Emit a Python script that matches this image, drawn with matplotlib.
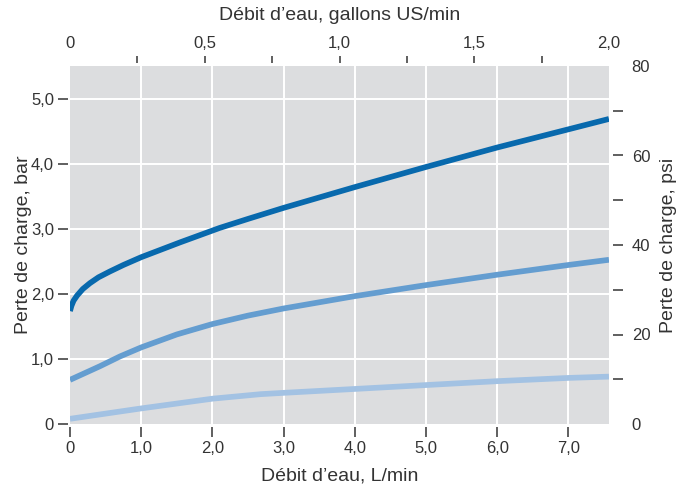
import matplotlib
matplotlib.use("Agg")
import matplotlib.pyplot as plt
import numpy as np

# Data (pressure drop in bar vs flow in L/min)
flow_dark = [0, 0.02, 0.05, 0.1, 0.18, 0.28, 0.4, 0.56, 0.75, 1.0, 1.55, 2.1, 2.5, 3.0, 4.0, 5.0, 6.0, 7.0, 7.57]
bar_dark = [1.74, 1.82, 1.90, 1.98, 2.08, 2.17, 2.26, 2.35, 2.45, 2.57, 2.80, 3.02, 3.16, 3.33, 3.65, 3.96, 4.26, 4.54, 4.70]

flow_mid = [0, 0.42, 0.70, 1.0, 1.5, 2.0, 2.5, 3.0, 4.0, 5.0, 6.0, 7.0, 7.57]
bar_mid = [0.68, 0.89, 1.04, 1.18, 1.38, 1.54, 1.67, 1.78, 1.97, 2.14, 2.30, 2.45, 2.53]

flow_light = [0, 1.0, 2.0, 2.68, 3.0, 4.0, 5.0, 6.0, 7.0, 7.57]
bar_light = [0.08, 0.24, 0.39, 0.46, 0.48, 0.54, 0.60, 0.66, 0.71, 0.73]

x_ticks = [0, 1, 2, 3, 4, 5, 6, 7]
x_labels = ["0", "1,0", "2,0", "3,0", "4,0", "5,0", "6,0", "7,0"]
y_ticks = [0, 1, 2, 3, 4, 5]
y_labels = ["0", "1,0", "2,0", "3,0", "4,0", "5,0"]
top_ticks = [0, 0.25, 0.5, 0.75, 1.0, 1.25, 1.5, 1.75, 2.0]
top_labels = ["0", "", "0,5", "", "1,0", "", "1,5", "", "2,0"]
psi_ticks = [0, 10, 20, 30, 40, 50, 60, 70, 80]
psi_labels = ["0", "", "20", "", "40", "", "60", "", "80"]

GAL = 3.78541
PSI = 0.0689476
xmax = 2.0 * GAL
ymax = 80 * PSI

plt.rcParams['font.family'] = ['Liberation Sans', 'DejaVu Sans']
txt = '#333333'
tickc = '#444444'
TL = 12
AL = 14

W, H = 689, 494
L, R, T, B = 70, 609, 66, 424

fig = plt.figure(figsize=(W / 100, H / 100), dpi=100)
ax = fig.add_axes([L / W, 1 - B / H, (R - L) / W, (B - T) / H])
ax.set_facecolor('#dcdddf')
ax.set_xlim(0, xmax)
ax.set_ylim(0, ymax)

def ax_x(px):
    return (px - L) / (R - L)

def ax_y(py):
    return (B - py) / (B - T)

for s in ax.spines.values():
    s.set_visible(False)
ax.spines['left'].set_position(('outward', 1.5))
ax.spines['bottom'].set_position(('outward', 2))

for v in range(1, 8):
    ax.axvline(v, color='white', lw=1.4, zorder=1)
for v in range(1, 6):
    ax.axhline(v, color='white', lw=1.4, zorder=1)

ax.plot(flow_light, bar_light, color='#a3c2e3', lw=4.1, solid_capstyle='butt', zorder=3)
ax.plot(flow_mid, bar_mid, color='#649dd0', lw=4.1, solid_capstyle='butt', zorder=3)
ax.plot(flow_dark, bar_dark, color='#0869ad', lw=4.1, solid_capstyle='butt', zorder=4)

ax.set_xticks(x_ticks)
ax.set_xticklabels(x_labels)
ax.set_yticks(y_ticks)
ax.set_yticklabels(y_labels)
ax.tick_params(axis='both', colors=tickc, labelcolor=txt, labelsize=TL, length=7, width=1.2, pad=3)
ax.xaxis.get_major_ticks()[0].tick1line.set_visible(False)
ax.yaxis.get_major_ticks()[0].tick1line.set_visible(False)
ax.set_xlabel("Débit d’eau, L/min", fontsize=AL, color=txt)
ax.xaxis.set_label_coords(0.5, ax_y(467))
ax.set_ylabel("Perte de charge, bar", fontsize=AL, color=txt)
ax.yaxis.set_label_coords(ax_x(32), 0.5)

# top axis (gallons)
axt = ax.twiny()
axt.set_xlim(0, 2.0)
for s in axt.spines.values():
    s.set_visible(False)
axt.spines['top'].set_position(('outward', 2))
axt.set_xticks(top_ticks)
axt.set_xticklabels(top_labels)
axt.tick_params(axis='x', length=5, width=1.2, colors=tickc, labelcolor=txt, labelsize=TL, pad=4)
for i in (0, len(top_ticks) - 1):
    axt.xaxis.get_major_ticks()[i].tick2line.set_visible(False)
axt.set_xlabel("Débit d’eau, gallons US/min", fontsize=AL, color=txt)
axt.xaxis.set_label_coords(0.5, ax_y(20))

# right axis (psi)
axr = ax.twinx()
axr.set_ylim(0, 80)
for s in axr.spines.values():
    s.set_visible(False)
axr.spines['right'].set_position(('outward', 3))
axr.set_yticks(psi_ticks)
axr.set_yticklabels(psi_labels)
axr.tick_params(axis='y', length=7.3, width=1.2, colors=tickc, labelcolor=txt, labelsize=TL, pad=6)
for i in (0, len(psi_ticks) - 1):
    axr.yaxis.get_major_ticks()[i].tick2line.set_visible(False)
axr.set_ylabel("Perte de charge, psi", fontsize=AL, color=txt)
axr.yaxis.set_label_coords(ax_x(660), 0.5)

fig.savefig("out.png", dpi=100)
